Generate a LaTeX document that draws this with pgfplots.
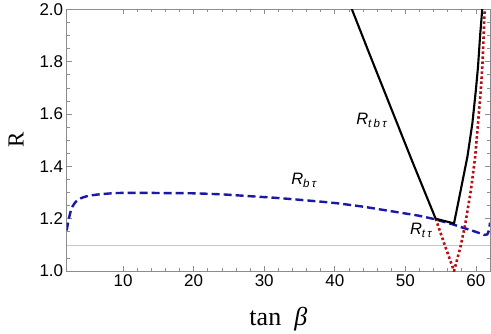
\documentclass[border=0pt]{standalone}
\usepackage{fontspec}
\setmainfont{Liberation Sans}
\newfontfamily\serif{Liberation Serif}
\usepackage{pgfplots}
\pgfplotsset{compat=1.18}
\definecolor{cblue}{rgb}{0.1,0.1,0.65}
\definecolor{cred}{rgb}{0.72,0.05,0.08}
\definecolor{frame}{gray}{0.55}
\begin{document}
\begin{tikzpicture}
\begin{axis}[
  scale only axis, width=423.3pt, height=261.7pt,
  xmin=2, xmax=62, ymin=1, ymax=2,
  xtick={10,20,...,60}, minor x tick num=4,
  ytick={1.0,1.2,...,2.0}, minor y tick num=3,
  tick align=inside, tick pos=both,
  xticklabel pos=lower, yticklabel pos=left,
  major tick length=5pt, minor tick length=3pt,
  every tick/.style={frame, line width=0.6pt},
  axis line style={frame, line width=0.6pt},
  /pgf/number format/assume math mode=true,
  yticklabel style={/pgf/number format/.cd, fixed, fixed zerofill, precision=1},
  ticklabel style={font=\fontsize{17}{17}\selectfont},
  xlabel={{\serif tan\hspace{0.5em}\itshape β}},
  ylabel={{\serif R}},
  xlabel style={at={(axis description cs:0.5,-0.2063)}, anchor=base, font=\fontsize{26}{26}\selectfont},
  ylabel style={at={(axis description cs:-0.1198,0.5)}, anchor=center, font=\fontsize{23}{23}\selectfont},
  clip=true,
]
\addplot[gray!45, line width=0.7pt] coordinates {(2,1.1) (62,1.1)};
% R_b tau
\addplot[cblue, line width=2.4pt, dash pattern=on 8pt off 4pt, smooth, tension=0.4] coordinates {
(2.0,1.155) (2.3,1.2) (2.7,1.24) (3.3,1.265) (4,1.278) (5,1.287) (6.6,1.293)
(9,1.298) (12,1.299) (16,1.298) (20,1.297) (24,1.293) (28,1.286) (32,1.279)
(36,1.270) (40,1.260) (44,1.246) (47,1.233) (50,1.220) (52,1.211) (54,1.199)
(56,1.184) (57,1.176) (58,1.167) (59.3,1.156) (60.5,1.145) (61.2,1.138)
(61.6,1.140) (61.85,1.155) (62,1.185)};
% R_t tau
\addplot[cred, line width=2.6pt, dash pattern=on 2.5pt off 2.5pt] coordinates {
(54.3,1.2) (55.5,1.106) (56.9,1.0) (57.8,1.09) (58.5,1.18) (59.3,1.31)
(59.9,1.437) (60.3,1.564) (60.7,1.692) (60.95,1.8) (61.1,1.9) (61.25,2.0) (61.3,2.05)};
% R_tb tau
\addplot[black, line width=2.1pt] coordinates {
(42.2,2.015) (42.43,2.0) (45,1.824) (48,1.621) (51,1.418) (54.3,1.2)
(56.9,1.182) (57.86,1.31) (58.8,1.437) (59.5,1.564) (60.0,1.692) (60.3,1.78)
(60.6,1.9) (60.9,2.0) (60.95,2.03)};
\node[font=\fontsize{16.5}{16.5}\selectfont\itshape] at (axis cs:45.2,1.577) {R\raisebox{-0.35ex}{\fontsize{11.5}{11.5}\selectfont t\hspace{0.2em}b\hspace{0.2em}τ}};
\node[font=\fontsize{16.5}{16.5}\selectfont\itshape] at (axis cs:35.6,1.346) {R\raisebox{-0.35ex}{\fontsize{11.5}{11.5}\selectfont b\hspace{0.2em}τ}};
\node[font=\fontsize{16.5}{16.5}\selectfont\itshape] at (axis cs:52.2,1.157) {R\raisebox{-0.35ex}{\fontsize{11.5}{11.5}\selectfont t\hspace{0.2em}τ}};
\end{axis}
\path (-66.7pt,-59pt) rectangle (424.3pt,271pt);
\end{tikzpicture}
\end{document}
